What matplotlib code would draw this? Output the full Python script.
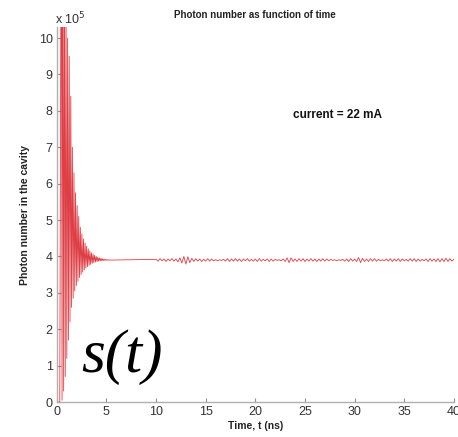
import matplotlib
matplotlib.use("Agg")
import matplotlib.pyplot as plt
import numpy as np

plt.rcParams['font.family'] = ['Liberation Sans', 'DejaVu Sans']

# relaxation oscillation: peak and trough times (ns) and photon numbers (x 1e5)
t_peak = [0.45, 0.61, 0.77, 0.93, 1.09, 1.25, 1.41, 1.57, 1.73, 1.89, 2.05,
          2.21, 2.37, 2.53, 2.69, 2.85, 3.01, 3.17, 3.33, 3.49, 3.65, 3.81,
          3.97, 4.13, 4.29, 4.45, 4.61, 4.77, 4.93, 5.09, 5.25, 5.41]
n_peak = [15.0, 14.0, 12.5, 11.0, 10.0, 9.5, 8.4, 7.0, 6.3, 5.75, 5.4,
          5.1, 4.8, 4.62, 4.48, 4.37, 4.28, 4.21, 4.15, 4.10, 4.06, 4.03,
          4.00, 3.98, 3.96, 3.945, 3.935, 3.925, 3.917, 3.912, 3.907, 3.904]
t_trough = [0.53, 0.69, 0.85, 1.01, 1.17, 1.33, 1.49, 1.65, 1.81, 1.97, 2.13,
            2.29, 2.45, 2.61, 2.77, 2.93, 3.09, 3.25, 3.41, 3.57, 3.73, 3.89,
            4.05, 4.21, 4.37, 4.53, 4.69, 4.85, 5.01, 5.17, 5.33, 5.49]
n_trough = [0.05, 0.3, 0.7, 1.2, 1.7, 2.2, 2.6, 2.85, 3.05, 3.2, 3.32,
            3.42, 3.5, 3.57, 3.63, 3.68, 3.72, 3.75, 3.78, 3.81, 3.83, 3.845,
            3.858, 3.868, 3.876, 3.882, 3.887, 3.891, 3.894, 3.896, 3.898, 3.9]

# steady state level and ripple after 10 ns (ripple in units of 1e3 photons)
steady = 3.9
t_noise = np.linspace(10.0, 40.0, 151)
ripple = [2, -3, 4, -2, 3, -4, 3, -2, 4, -3,
          3, -5, 6, -8, 10, -11, 9, -7, 5, -4,
          4, -3, 3, -4, 2, -3, 4, -3, 3, -2,
          1, -2, 1, -1, 2, -3, 4, -4, 3, -3,
          4, -3, 3, -4, 3, -2, 4, -3, 2, -3,
          3, -4, 4, -3, 2, -2, 3, -4, 3, -3,
          2, -1, 1, -2, 3, -4, 6, -7, 6, -4,
          3, -4, 4, -3, 4, -4, 3, -3, 4, -3,
          3, -4, 3, -3, 4, -3, 3, -2, 2, -1,
          1, -2, 1, -1, 2, -3, 3, -4, 4, -3,
          3, -4, 7, -7, 5, -4, 3, -4, 4, -3,
          4, -3, 2, -2, 1, -2, 3, -3, 4, -4,
          3, -3, 4, -4, 3, -2, 2, -3, 4, -3,
          4, -4, 3, -3, 2, -2, 3, -4, 4, -3,
          3, -4, 4, -5, 4, -4, 5, -4, 4, -3,
          2]

t_osc = [0.0, 0.30]
n_osc = [0.0, 0.0]
for tp, npk, tt, ntr in zip(t_peak, n_peak, t_trough, n_trough):
    t_osc += [tp, tt]
    n_osc += [npk, ntr]

t_all = np.concatenate([t_osc, t_noise])
n_all = np.concatenate([n_osc, steady + np.array(ripple) * 0.01])

fig = plt.figure(figsize=(4.58, 4.37), dpi=100)
ax = fig.add_axes([0.124, 0.080, 0.867, 0.858])

ax.plot(t_all, n_all, color='#de3f46', lw=0.6)

ax.set_xlim(0, 40)
ax.set_ylim(0, 10.3)
ax.set_xticks(range(0, 41, 5))
ax.set_yticks(range(0, 11))

for s in ['top', 'right']:
    ax.spines[s].set_visible(False)
for s in ['left', 'bottom']:
    ax.spines[s].set_color('#b0b0b0')
    ax.spines[s].set_linewidth(1.0)
ax.tick_params(direction='in', length=3, color='#909090', labelsize=9,
               labelcolor='#333333', pad=3)

ax.text(0.5, 1.018, 'Photon number as function of time', transform=ax.transAxes,
        ha='center', va='bottom', fontsize=7, fontweight='bold', color='#222222')
ax.text(-0.005, 1.0, r'x 10$^5$', transform=ax.transAxes, ha='left', va='bottom',
        fontsize=9, color='#333333')
ax.set_xlabel('Time, t (ns)', fontsize=7.5, fontweight='bold', color='#222222',
              labelpad=2)
ax.set_ylabel('Photon number in the cavity', fontsize=7.5, fontweight='bold',
              color='#222222', labelpad=6)

ax.text(23.8, 7.88, 'current = 22 mA', ha='left', va='center', fontsize=8.5,
        fontweight='bold', color='#111111')
ax.text(2.5, 0.82, 's(t)', ha='left', va='baseline', fontsize=44,
        family='Liberation Serif', style='italic', color='black')

fig.savefig('out.png', dpi=100)
